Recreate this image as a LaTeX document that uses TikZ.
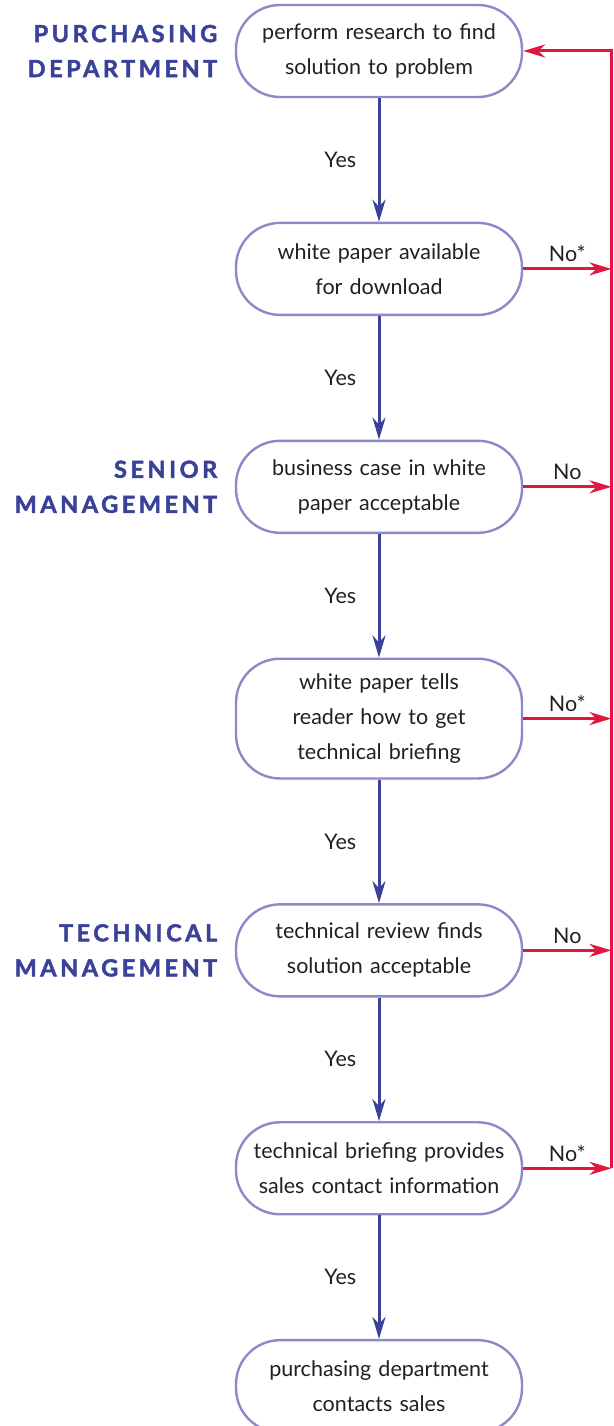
\documentclass[tikz,border=0pt]{standalone}
\usepackage{fontspec}
\setmainfont{Lato}
\newfontfamily\deptfont{Lato}[LetterSpace=15, BoldFeatures={FakeBold=2}]
\usetikzlibrary{arrows.meta, positioning}

\definecolor{flowblue}{RGB}{57,66,152}
\definecolor{edgeviolet}{RGB}{143,136,200}
\definecolor{flowred}{RGB}{226,22,64}
\definecolor{inkgray}{RGB}{35,31,32}

\begin{document}
\begin{tikzpicture}[
  x=1pt, y=-1pt,
  node distance=123.5pt and 14pt,
  stage/.style={rectangle, draw=edgeviolet, line width=2.4pt, fill=white, rounded corners=44pt, text width=260pt, inner xsep=13pt, inner ysep=15pt, minimum height=92pt, align=center, text=inkgray, font=\fontsize{21.5}{35}\selectfont},
  dept/.style={align=right, text=flowblue, font=\deptfont\bfseries\fontsize{23.5}{35}\selectfont},
  lbl/.style={text=inkgray, font=\fontsize{21.5}{24}\selectfont},
  yes_arrow/.style={draw=flowblue, line width=3pt, -{Stealth[length=22pt, width=13pt, inset=7pt]}},
  no_arrow/.style={draw=flowred, line width=3pt, -{Stealth[length=22pt, width=13pt, inset=7pt]}}
]
\useasboundingbox (0,0) rectangle (613,1426);

% Main Flow
\node (research) [stage] at (379,51) {perform research to find\\solution to problem};
\node (available) [stage, below=of research] {white paper available\\for download};
\node (business) [stage, below=of available] {business case in white\\paper acceptable};
\node (tells) [stage, below=of business] {white paper tells\\reader how to get\\technical briefing};
\node (review) [stage, below=of tells] {technical review finds\\solution acceptable};
\node (briefing) [stage, below=of review] {technical briefing provides\\sales contact information};
\node (contacts) [stage, below=of briefing] {purchasing department\\contacts sales};

% Departments
\node (purchasing) [dept, left=of research] {PURCHASING\\DEPARTMENT};
\node (senior) [dept, left=of business] {SENIOR\\MANAGEMENT};
\node (technical) [dept, left=of review] {TECHNICAL\\MANAGEMENT};

% Arrows
\draw [yes_arrow] (research) -- (available) node[midway, left=18pt, lbl] {Yes};
\draw [yes_arrow] (available) -- (business) node[midway, left=18pt, lbl] {Yes};
\draw [yes_arrow] (business) -- (tells) node[midway, left=18pt, lbl] {Yes};
\draw [yes_arrow] (tells) -- (review) node[midway, left=18pt, lbl] {Yes};
\draw [yes_arrow] (review) -- (briefing) node[midway, left=18pt, lbl] {Yes};
\draw [yes_arrow] (briefing) -- (contacts) node[midway, left=18pt, lbl] {Yes};

% Return path
\coordinate (rail) at (611.5,0);
\draw [no_arrow] (available.east) -- (available.east -| rail) node[midway, above=2pt, lbl] {No*};
\draw [no_arrow] (business.east) -- (business.east -| rail) node[midway, above=2pt, lbl] {No};
\draw [no_arrow] (tells.east) -- (tells.east -| rail) node[midway, above=2pt, lbl] {No*};
\draw [no_arrow] (review.east) -- (review.east -| rail) node[midway, above=2pt, lbl] {No};
\draw [no_arrow] (briefing.east) -- (briefing.east -| rail) node[midway, above=2pt, lbl] {No*};
\draw [no_arrow] (briefing.east -| rail) -- (research.east -| rail) -- (research.east);
\end{tikzpicture}
\end{document}
